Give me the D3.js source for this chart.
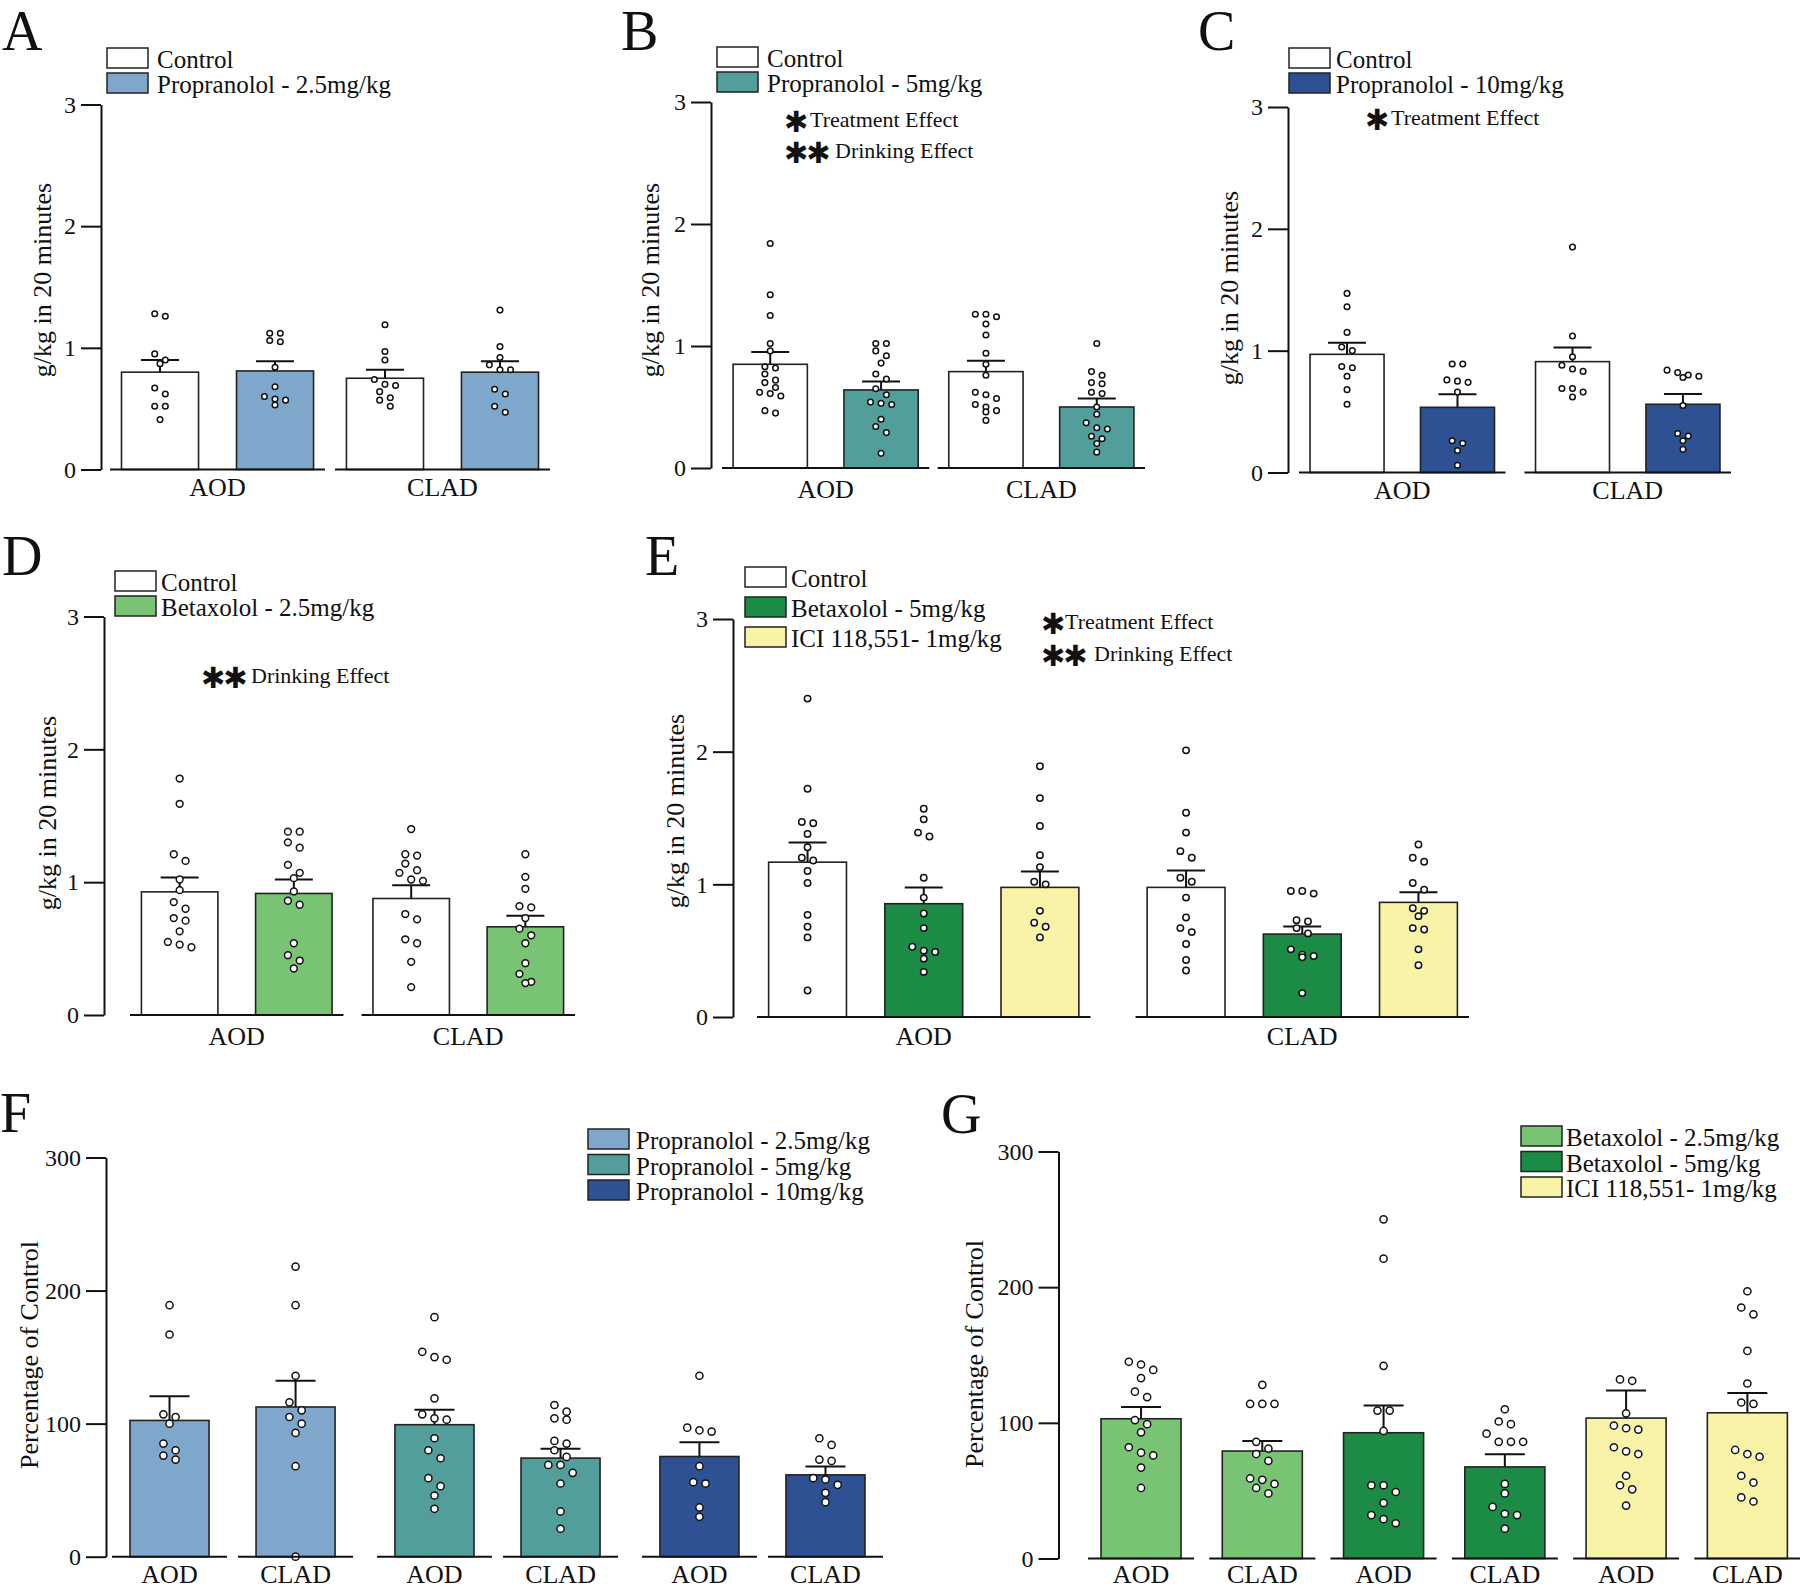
<!DOCTYPE html>
<html><head><meta charset="utf-8">
<script src="https://cdn.jsdelivr.net/npm/d3@7"></script>
<style>body{margin:0;background:#fff}</style>
</head><body>
<script>
// ---------------- DATA ----------------
const drinkGroups = ["AOD", "CLAD"];
const gkgTicks = [0, 1, 2, 3];
const pctTicks = [0, 100, 200, 300];
const yTitleGkg = "g/kg in 20 minutes";
const yTitlePct = "Percentage of Control";

// Panel A
const seriesA = ["Control", "Propranolol - 2.5mg/kg"];
const meanA = [[0.80, 0.81], [0.75, 0.80]];
const semA = [[0.10, 0.08], [0.07, 0.09]];
const ptsA = [
  [[1.28,1.26,0.95,0.90,0.87,0.67,0.62,0.52,0.52,0.41],[1.12,1.12,1.06,1.05,0.84,0.68,0.60,0.58,0.57,0.53]],
  [[1.19,0.97,0.90,0.74,0.70,0.69,0.64,0.59,0.57,0.52],[1.31,1.01,0.92,0.86,0.82,0.82,0.66,0.62,0.52,0.47]]
];
// Panel B
const seriesB = ["Control", "Propranolol - 5mg/kg"];
const meanB = [[0.85, 0.64], [0.79, 0.50]];
const semB = [[0.10, 0.07], [0.09, 0.07]];
const ptsB = [
  [[1.84,1.42,1.25,1.02,0.96,0.83,0.82,0.77,0.72,0.70,0.66,0.62,0.61,0.59,0.47,0.45],
   [1.02,1.02,0.96,0.92,0.86,0.77,0.73,0.65,0.60,0.54,0.53,0.52,0.40,0.34,0.29,0.12]],
  [[1.26,1.26,1.24,1.18,1.09,0.94,0.85,0.76,0.62,0.60,0.57,0.52,0.50,0.47,0.46,0.39],
   [1.02,0.79,0.76,0.70,0.69,0.62,0.61,0.50,0.44,0.37,0.33,0.32,0.26,0.24,0.20,0.13]]
];
const notesB = ["Treatment Effect", "Drinking Effect"];
// Panel C
const seriesC = ["Control", "Propranolol - 10mg/kg"];
const meanC = [[0.97, 0.535], [0.91, 0.56]];
const semC = [[0.096, 0.107], [0.117, 0.085]];
const ptsC = [
  [[1.47,1.36,1.15,1.03,1.00,0.87,0.86,0.79,0.68,0.56],[0.89,0.89,0.76,0.75,0.74,0.66,0.26,0.24,0.18,0.06]],
  [[1.85,1.12,0.95,0.88,0.85,0.83,0.69,0.69,0.66,0.62],[0.84,0.82,0.80,0.79,0.78,0.55,0.32,0.30,0.26,0.19]]
];
const notesC = ["Treatment Effect"];
// Panel D
const seriesD = ["Control", "Betaxolol - 2.5mg/kg"];
const meanD = [[0.927, 0.915], [0.877, 0.664]];
const semD = [[0.108, 0.105], [0.10, 0.083]];
const ptsD = [
  [[1.78,1.59,1.21,1.16,1.02,0.94,0.85,0.80,0.73,0.71,0.63,0.55,0.53,0.51],
   [1.38,1.38,1.30,1.26,1.13,1.07,1.03,0.93,0.86,0.83,0.54,0.45,0.41,0.35]],
  [[1.40,1.21,1.20,1.14,1.09,1.07,1.02,1.01,0.76,0.72,0.57,0.54,0.40,0.21],
   [1.21,1.04,0.95,0.82,0.81,0.73,0.65,0.60,0.54,0.39,0.31,0.25,0.24]]
];
const notesD = ["Drinking Effect"];
// Panel E
const seriesE = ["Control", "Betaxolol - 5mg/kg", "ICI 118,551- 1mg/kg"];
const meanE = [[1.167, 0.854, 0.977], [0.977, 0.625, 0.864]];
const semE = [[0.149, 0.123, 0.12], [0.128, 0.058, 0.076]];
const ptsE = [
  [[2.40,1.72,1.47,1.46,1.38,1.28,1.20,1.18,1.10,1.01,0.77,0.68,0.60,0.20],
   [1.57,1.49,1.39,1.36,1.05,0.90,0.78,0.67,0.53,0.50,0.49,0.44,0.34],
   [1.89,1.65,1.44,1.22,1.13,1.02,1.00,0.80,0.71,0.68,0.60]],
  [[2.01,1.54,1.39,1.25,1.20,1.05,1.02,0.90,0.75,0.67,0.64,0.55,0.43,0.35],
   [0.95,0.95,0.93,0.73,0.72,0.67,0.63,0.51,0.47,0.46,0.45,0.18],
   [1.30,1.20,1.17,1.01,0.96,0.82,0.80,0.76,0.67,0.66,0.51,0.39]]
];
const notesE = ["Treatment Effect", "Drinking Effect"];
// Panel F (percentage of control)
const seriesF = ["Propranolol - 2.5mg/kg", "Propranolol - 5mg/kg", "Propranolol - 10mg/kg"];
const meanF = [[102.4, 112.5], [99.2, 74.1], [75.3, 61.5]];
const semF = [[18.1, 19.8], [11.3, 7.0], [10.8, 6.3]];
const ptsF = [
  [[189,167,107,105,100,85,80,76,73],[218,189,136,116,110,105,100,93,68,0]],
  [[180,154,150,148,119,107,104,103,89,80,74,59,53,46,36],[114,109,104,103,87,85,80,75,69,69,63,55,34,21]],
  [[136,97,95,94,68,56,55,37,30],[89,84,73,72,59,58,54,48,41]]
];
// Panel G (percentage of control)
const seriesG = ["Betaxolol - 2.5mg/kg", "Betaxolol - 5mg/kg", "ICI 118,551- 1mg/kg"];
const meanG = [[103, 79.2], [92.7, 67.5], [103.5, 107.4]];
const semG = [[8.6, 7.4], [20.1, 9.3], [20.4, 14.5]];
const ptsG = [
  [[145,143,139,133,123,119,102,99,93,82,78,76,67,52],[128,114,114,114,86,81,77,72,59,58,55,52,48]],
  [[250,221,142,109,109,94,54,54,49,41,32,29,26],[110,101,99,92,86,86,86,55,48,38,33,32,22]],
  [[132,131,107,98,96,95,82,79,77,61,54,51,39],[197,185,180,153,129,115,114,80,77,75,61,56,45,42]]
];

// ---------------- STYLE ----------------
const C_CTRL = "#ffffff", C_P25 = "#7fa7cc", C_P5 = "#519e9b", C_P10 = "#2e5193",
      C_B25 = "#79c474", C_B5 = "#1c8b45", C_ICI = "#f8f3a6";
const FONT = "'Liberation Serif','Times New Roman',Times,serif";
const STAR = "'DejaVu Sans',sans-serif";

const svg = d3.select("body").append("svg").attr("width", 1800).attr("height", 1589)
  .style("background", "#fff");

function yAxis(g, y, ticks, x) {
  const ax = g.append("g").attr("transform", `translate(${x},0)`)
    .call(d3.axisLeft(y).tickValues(ticks).tickSize(20).tickSizeOuter(0).tickPadding(5).tickFormat(d3.format("d")));
  ax.select(".domain").attr("stroke", "#111").attr("stroke-width", 2);
  ax.selectAll(".tick line").attr("stroke", "#111").attr("stroke-width", 2);
  ax.selectAll(".tick text").attr("font-family", FONT).attr("font-size", 24).attr("fill", "#111");
}
function yTitle(g, text, x, y) {
  g.append("text").attr("transform", `translate(${x},${y}) rotate(-90)`)
    .attr("text-anchor", "middle").attr("dominant-baseline", "central")
    .attr("font-family", FONT).attr("font-size", 26).attr("fill", "#111").text(text);
}
function panelLetter(g, t, x, y) {
  g.append("text").attr("x", x).attr("y", y).attr("font-family", FONT).attr("font-size", 56)
    .attr("fill", "#111").text(t);
}
function legend(g, names, colors, x, ys, tx, fs) {
  names.forEach((n, i) => {
    g.append("rect").attr("x", x).attr("y", ys[i]).attr("width", 41).attr("height", 20)
      .attr("fill", colors[i]).attr("stroke", "#222").attr("stroke-width", 1.5);
    g.append("text").attr("x", tx).attr("y", ys[i] + 20).attr("font-family", FONT)
      .attr("font-size", fs).attr("fill", "#111").text(n);
  });
}
function note(g, stars, text, sx, tx, baseline) {
  g.append("text").attr("x", sx).attr("y", baseline + 5).attr("font-family", STAR)
    .attr("font-size", 29).attr("letter-spacing", -2).attr("fill", "#111").text(stars);
  g.append("text").attr("x", tx).attr("y", baseline).attr("font-family", FONT)
    .attr("font-size", 22).attr("fill", "#111").text(text);
}
function dodge(vals, y, r) {
  const pts = vals.map(v => ({ v, py: y(v) })).sort((a, b) => a.py - b.py);
  const out = []; let cl = [];
  const thr = 2 * r + 1.5, sp = 2 * r + 5;
  const flush = () => { const n = cl.length; cl.forEach((p, i) => { p.dx = (i - (n - 1) / 2) * sp; out.push(p); }); cl = []; };
  pts.forEach(p => { if (cl.length && p.py - cl[0].py > thr) flush(); cl.push(p); });
  flush();
  return out;
}
function barWithDots(g, x, w, y, mean, sem, pts, fill, r, cap) {
  const y0 = y(0);
  g.append("rect").attr("x", x).attr("y", y(mean)).attr("width", w).attr("height", y0 - y(mean))
    .attr("fill", fill).attr("stroke", "#222").attr("stroke-width", 1.6);
  const cx = x + w / 2;
  g.append("line").attr("x1", cx).attr("x2", cx).attr("y1", y(mean)).attr("y2", y(mean + sem))
    .attr("stroke", "#111").attr("stroke-width", 2);
  g.append("line").attr("x1", cx - cap).attr("x2", cx + cap).attr("y1", y(mean + sem)).attr("y2", y(mean + sem))
    .attr("stroke", "#111").attr("stroke-width", 2);
  dodge(pts, y, r).forEach(p => {
    g.append("circle").attr("cx", cx + p.dx).attr("cy", p.py).attr("r", r)
      .attr("fill", "#fff").attr("stroke", "#111").attr("stroke-width", 1.5);
  });
}

// Panels A-E: grouped by drinking group, series = treatments
function groupedPanel(L, series, colors, means, sems, pts) {
  const g = svg.append("g");
  const y = d3.scaleLinear().domain([0, 3]).range([L.y0, L.y3]);
  const gx = d3.scaleBand().domain(drinkGroups).range(L.xr).paddingInner(L.gpad);
  const sx = d3.scaleBand().domain(series).range([0, gx.bandwidth()]).paddingInner(0.33).paddingOuter(0.1);
  drinkGroups.forEach((grp, gi) => {
    const gx0 = gx(grp);
    series.forEach((s, si) => {
      barWithDots(g, gx0 + sx(s), sx.bandwidth(), y, means[gi][si], sems[gi][si], pts[gi][si], colors[si], L.r, 19);
    });
    g.append("line").attr("x1", gx0).attr("x2", gx0 + gx.bandwidth()).attr("y1", y(0)).attr("y2", y(0))
      .attr("stroke", "#111").attr("stroke-width", 2);
    g.append("text").attr("x", gx0 + gx.bandwidth() / 2).attr("y", L.labY).attr("text-anchor", "middle")
      .attr("font-family", FONT).attr("font-size", 26).attr("fill", "#111").text(grp);
  });
  yAxis(g, y, gkgTicks, L.ax);
  yTitle(g, yTitleGkg, L.tx, L.ty);
  panelLetter(g, L.letter, L.lx, L.ly);
  legend(g, series, colors, L.legX, L.legY, L.legTX, 25);
  return g;
}
// Panels F-G: grouped by treatment, bars per drinking group
function pctPanel(L, series, colors, means, sems, pts) {
  const g = svg.append("g");
  const y = d3.scaleLinear().domain([0, 300]).range([L.y0, L.y3]);
  const gx = d3.scaleBand().domain(series).range(L.xr).paddingInner(L.gpad);
  const sx = d3.scaleBand().domain(drinkGroups).range([0, gx.bandwidth()]).paddingInner(L.ipad).paddingOuter(L.opad);
  series.forEach((s, gi) => {
    drinkGroups.forEach((d, di) => {
      const bx = gx(s) + sx(d), w = sx.bandwidth();
      barWithDots(g, bx, w, y, means[gi][di], sems[gi][di], pts[gi][di], colors[gi], L.r, 20);
      g.append("line").attr("x1", bx - L.seg).attr("x2", bx + w + L.seg).attr("y1", y(0)).attr("y2", y(0))
        .attr("stroke", "#111").attr("stroke-width", 2);
      g.append("text").attr("x", bx + w / 2).attr("y", L.labY).attr("text-anchor", "middle")
        .attr("font-family", FONT).attr("font-size", 26).attr("fill", "#111").text(d);
    });
  });
  yAxis(g, y, pctTicks, L.ax);
  yTitle(g, yTitlePct, L.tx, L.ty);
  panelLetter(g, L.letter, L.lx, L.ly);
  legend(g, series, colors, L.legX, L.legY, L.legTX, L.legFS);
  return g;
}

// ---------------- LAYOUT & DRAW ----------------
groupedPanel({ letter: "A", lx: 2, ly: 50, y0: 469.5, y3: 104.5, ax: 101, xr: [110, 550], gpad: 0.044, r: 2.8,
  labY: 496, tx: 42, ty: 280, legX: 107, legY: [48, 73], legTX: 157 }, seriesA, [C_CTRL, C_P25], meanA, semA, ptsA);

const gB = groupedPanel({ letter: "B", lx: 621, ly: 50, y0: 468, y3: 102, ax: 711, xr: [722, 1145], gpad: 0.039, r: 2.8,
  labY: 498, tx: 650, ty: 280, legX: 717, legY: [47, 72], legTX: 767 }, seriesB, [C_CTRL, C_P5], meanB, semB, ptsB);
note(gB, "✱", notesB[0], 784, 810, 127);
note(gB, "✱✱", notesB[1], 784, 835, 158);

const gC = groupedPanel({ letter: "C", lx: 1198, ly: 50, y0: 472.5, y3: 107, ax: 1288, xr: [1299, 1731], gpad: 0.084, r: 2.8,
  labY: 499, tx: 1229, ty: 288, legX: 1289, legY: [48, 73], legTX: 1336 }, seriesC, [C_CTRL, C_P10], meanC, semC, ptsC);
note(gC, "✱", notesC[0], 1365, 1391, 125);

const gD = groupedPanel({ letter: "D", lx: 2, ly: 575, y0: 1015, y3: 616.5, ax: 104, xr: [130, 575], gpad: 0.078, r: 3.4,
  labY: 1045, tx: 47, ty: 813, legX: 115, legY: [571, 596], legTX: 161 }, seriesD, [C_CTRL, C_B25], meanD, semD, ptsD);
note(gD, "✱✱", notesD[0], 201, 251, 683);

const gE = groupedPanel({ letter: "E", lx: 645, ly: 575, y0: 1017, y3: 619, ax: 733, xr: [757, 1469], gpad: 0.119, r: 3.2,
  labY: 1045, tx: 675, ty: 811, legX: 745, legY: [567, 597, 627], legTX: 791 }, seriesE, [C_CTRL, C_B5, C_ICI], meanE, semE, ptsE);
note(gE, "✱", notesE[0], 1041, 1065, 629);
note(gE, "✱✱", notesE[1], 1041, 1094, 661);

pctPanel({ letter: "F", lx: 0, ly: 1132, y0: 1556.7, y3: 1157.5, ax: 106, xr: [130, 865], gpad: 0.226, ipad: 0.373, opad: 0,
  r: 3.6, seg: 18, labY: 1583, tx: 29, ty: 1355, legX: 588, legY: [1129, 1154.5, 1180], legTX: 636, legFS: 25 },
  seriesF, [C_P25, C_P5, C_P10], meanF, semF, ptsF);

pctPanel({ letter: "G", lx: 941, ly: 1133, y0: 1558.5, y3: 1151.5, ax: 1058.5, xr: [1080.4, 1808], gpad: 0, ipad: 0.34, opad: 0.17,
  r: 3.6, seg: 13, labY: 1583, tx: 974, ty: 1354, legX: 1521, legY: [1126, 1151.5, 1177], legTX: 1566, legFS: 25 },
  seriesG, [C_B25, C_B5, C_ICI], meanG, semG, ptsG);
</script>
</body></html>
